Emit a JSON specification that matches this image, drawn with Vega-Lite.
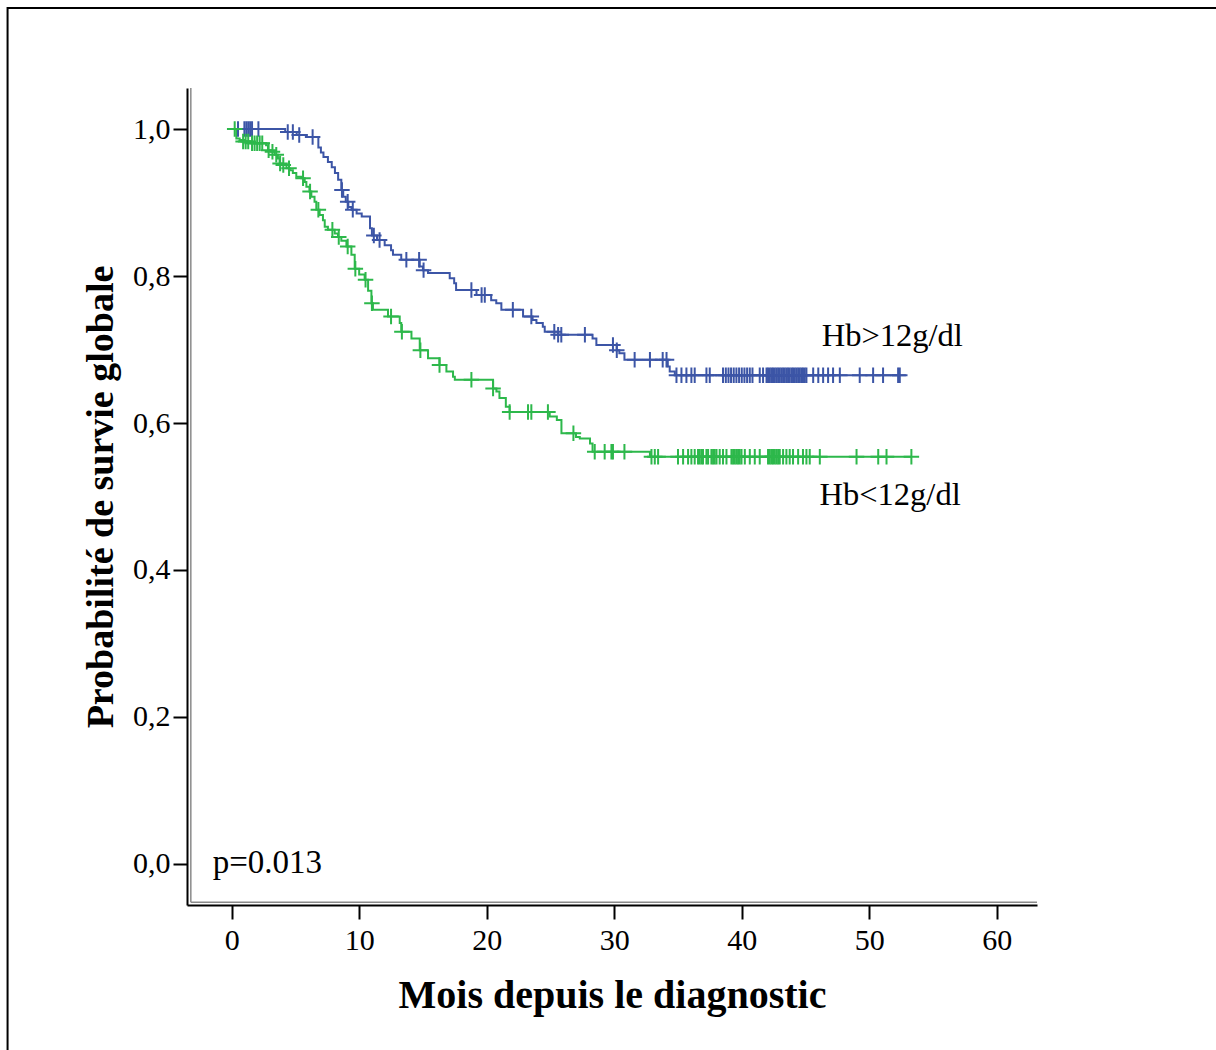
{
  "$schema": "https://vega.github.io/schema/vega-lite/v6.json",
  "width": 850,
  "height": 817,
  "autosize": {"type": "none"},
  "padding": {"left": 187, "top": 88, "right": 179, "bottom": 145},
  "background": "white",
  "config": {
    "view": {"stroke": null},
    "axis": {
      "grid": false,
      "domainColor": "black",
      "domainWidth": 2,
      "tickColor": "black",
      "tickWidth": 2,
      "tickSize": 14,
      "labelFont": "Liberation Serif",
      "labelFontSize": 30,
      "labelColor": "black",
      "titleFont": "Liberation Serif",
      "titleFontWeight": "bold",
      "titleColor": "black"
    }
  },
  "datasets": {
    "curves": [
      {"g":"Hb>12g/dl","t":0,"s":1.0},{"g":"Hb>12g/dl","t":4.2,"s":0.996},{"g":"Hb>12g/dl","t":5.1,"s":0.992},{"g":"Hb>12g/dl","t":5.9,"s":0.989},
      {"g":"Hb>12g/dl","t":6.8,"s":0.975},{"g":"Hb>12g/dl","t":7.0,"s":0.968},{"g":"Hb>12g/dl","t":7.2,"s":0.962},{"g":"Hb>12g/dl","t":7.55,"s":0.955},
      {"g":"Hb>12g/dl","t":7.85,"s":0.948},{"g":"Hb>12g/dl","t":8.1,"s":0.94},{"g":"Hb>12g/dl","t":8.35,"s":0.931},{"g":"Hb>12g/dl","t":8.6,"s":0.917},
      {"g":"Hb>12g/dl","t":8.75,"s":0.908},{"g":"Hb>12g/dl","t":8.95,"s":0.901},{"g":"Hb>12g/dl","t":9.15,"s":0.894},{"g":"Hb>12g/dl","t":9.4,"s":0.89},
      {"g":"Hb>12g/dl","t":9.8,"s":0.885},{"g":"Hb>12g/dl","t":10.2,"s":0.881},{"g":"Hb>12g/dl","t":10.85,"s":0.865},{"g":"Hb>12g/dl","t":11.0,"s":0.855},
      {"g":"Hb>12g/dl","t":11.4,"s":0.849},{"g":"Hb>12g/dl","t":12.0,"s":0.842},{"g":"Hb>12g/dl","t":12.5,"s":0.835},{"g":"Hb>12g/dl","t":12.65,"s":0.829},
      {"g":"Hb>12g/dl","t":13.3,"s":0.822},{"g":"Hb>12g/dl","t":14.75,"s":0.813},{"g":"Hb>12g/dl","t":15.0,"s":0.808},{"g":"Hb>12g/dl","t":15.4,"s":0.804},
      {"g":"Hb>12g/dl","t":17.1,"s":0.797},{"g":"Hb>12g/dl","t":17.45,"s":0.79},{"g":"Hb>12g/dl","t":17.6,"s":0.781},{"g":"Hb>12g/dl","t":19.2,"s":0.774},
      {"g":"Hb>12g/dl","t":20.35,"s":0.767},{"g":"Hb>12g/dl","t":20.75,"s":0.763},{"g":"Hb>12g/dl","t":21.15,"s":0.754},{"g":"Hb>12g/dl","t":22.85,"s":0.745},
      {"g":"Hb>12g/dl","t":23.6,"s":0.74},{"g":"Hb>12g/dl","t":23.9,"s":0.736},{"g":"Hb>12g/dl","t":24.4,"s":0.731},{"g":"Hb>12g/dl","t":24.55,"s":0.724},
      {"g":"Hb>12g/dl","t":25.6,"s":0.72},{"g":"Hb>12g/dl","t":28.3,"s":0.715},{"g":"Hb>12g/dl","t":28.6,"s":0.706},{"g":"Hb>12g/dl","t":30.2,"s":0.699},
      {"g":"Hb>12g/dl","t":30.4,"s":0.695},{"g":"Hb>12g/dl","t":30.8,"s":0.686},{"g":"Hb>12g/dl","t":34.2,"s":0.677},{"g":"Hb>12g/dl","t":34.35,"s":0.67},
      {"g":"Hb>12g/dl","t":34.75,"s":0.665},{"g":"Hb>12g/dl","t":52.39,"s":0.665},
      {"g":"Hb<12g/dl","t":0,"s":1.0},{"g":"Hb<12g/dl","t":0.37,"s":0.987},{"g":"Hb<12g/dl","t":0.63,"s":0.985},{"g":"Hb<12g/dl","t":1.0,"s":0.983},
      {"g":"Hb<12g/dl","t":1.55,"s":0.9805},{"g":"Hb<12g/dl","t":2.7,"s":0.978},{"g":"Hb<12g/dl","t":2.85,"s":0.971},{"g":"Hb<12g/dl","t":3.1,"s":0.969},
      {"g":"Hb<12g/dl","t":3.37,"s":0.965},{"g":"Hb<12g/dl","t":3.63,"s":0.96},{"g":"Hb<12g/dl","t":3.76,"s":0.953},{"g":"Hb<12g/dl","t":4.0,"s":0.951},
      {"g":"Hb<12g/dl","t":4.3,"s":0.9465},{"g":"Hb<12g/dl","t":4.55,"s":0.944},{"g":"Hb<12g/dl","t":4.8,"s":0.94},{"g":"Hb<12g/dl","t":5.07,"s":0.935},
      {"g":"Hb<12g/dl","t":5.47,"s":0.933},{"g":"Hb<12g/dl","t":5.73,"s":0.928},{"g":"Hb<12g/dl","t":5.86,"s":0.9215},{"g":"Hb<12g/dl","t":6.1,"s":0.915},
      {"g":"Hb<12g/dl","t":6.25,"s":0.908},{"g":"Hb<12g/dl","t":6.5,"s":0.901},{"g":"Hb<12g/dl","t":6.64,"s":0.89},{"g":"Hb<12g/dl","t":6.9,"s":0.883},
      {"g":"Hb<12g/dl","t":7.16,"s":0.876},{"g":"Hb<12g/dl","t":7.3,"s":0.867},{"g":"Hb<12g/dl","t":7.55,"s":0.863},{"g":"Hb<12g/dl","t":8.08,"s":0.858},
      {"g":"Hb<12g/dl","t":8.34,"s":0.853},{"g":"Hb<12g/dl","t":8.6,"s":0.848},{"g":"Hb<12g/dl","t":9.0,"s":0.84},{"g":"Hb<12g/dl","t":9.39,"s":0.829},
      {"g":"Hb<12g/dl","t":9.65,"s":0.81},{"g":"Hb<12g/dl","t":10.0,"s":0.802},{"g":"Hb<12g/dl","t":10.43,"s":0.795},{"g":"Hb<12g/dl","t":10.7,"s":0.78},
      {"g":"Hb<12g/dl","t":10.96,"s":0.763},{"g":"Hb<12g/dl","t":11.08,"s":0.754},{"g":"Hb<12g/dl","t":12.26,"s":0.745},{"g":"Hb<12g/dl","t":13.18,"s":0.736},
      {"g":"Hb<12g/dl","t":13.3,"s":0.724},{"g":"Hb<12g/dl","t":14.1,"s":0.715},{"g":"Hb<12g/dl","t":14.75,"s":0.699},{"g":"Hb<12g/dl","t":15.4,"s":0.688},
      {"g":"Hb<12g/dl","t":16.3,"s":0.679},{"g":"Hb<12g/dl","t":16.84,"s":0.67},{"g":"Hb<12g/dl","t":17.36,"s":0.663},{"g":"Hb<12g/dl","t":17.5,"s":0.659},
      {"g":"Hb<12g/dl","t":20.5,"s":0.647},{"g":"Hb<12g/dl","t":20.76,"s":0.643},{"g":"Hb<12g/dl","t":21.0,"s":0.634},{"g":"Hb<12g/dl","t":21.5,"s":0.622},
      {"g":"Hb<12g/dl","t":21.8,"s":0.615},{"g":"Hb<12g/dl","t":24.94,"s":0.609},{"g":"Hb<12g/dl","t":25.5,"s":0.604},{"g":"Hb<12g/dl","t":25.86,"s":0.586},
      {"g":"Hb<12g/dl","t":27.0,"s":0.581},{"g":"Hb<12g/dl","t":27.3,"s":0.579},{"g":"Hb<12g/dl","t":28.1,"s":0.572},{"g":"Hb<12g/dl","t":28.3,"s":0.561},
      {"g":"Hb<12g/dl","t":32.8,"s":0.554},{"g":"Hb<12g/dl","t":53.3,"s":0.554}
    ],
    "censor": [
      {"g":"Hb>12g/dl","t":0.5,"s":1.0},{"g":"Hb>12g/dl","t":1.0,"s":1.0},{"g":"Hb>12g/dl","t":1.15,"s":1.0},{"g":"Hb>12g/dl","t":1.3,"s":1.0},
      {"g":"Hb>12g/dl","t":1.45,"s":1.0},{"g":"Hb>12g/dl","t":1.6,"s":1.0},{"g":"Hb>12g/dl","t":2.1,"s":1.0},
      {"g":"Hb>12g/dl","t":4.4,"s":0.996},{"g":"Hb>12g/dl","t":4.8,"s":0.996},{"g":"Hb>12g/dl","t":5.3,"s":0.992},{"g":"Hb>12g/dl","t":6.35,"s":0.989},
      {"g":"Hb>12g/dl","t":8.65,"s":0.917},{"g":"Hb>12g/dl","t":9.1,"s":0.901},{"g":"Hb>12g/dl","t":9.5,"s":0.89},{"g":"Hb>12g/dl","t":11.15,"s":0.855},
      {"g":"Hb>12g/dl","t":11.6,"s":0.849},{"g":"Hb>12g/dl","t":13.7,"s":0.822},{"g":"Hb>12g/dl","t":14.7,"s":0.822},{"g":"Hb>12g/dl","t":15.05,"s":0.808},
      {"g":"Hb>12g/dl","t":18.8,"s":0.781},{"g":"Hb>12g/dl","t":19.6,"s":0.774},{"g":"Hb>12g/dl","t":19.85,"s":0.774},{"g":"Hb>12g/dl","t":22.05,"s":0.754},
      {"g":"Hb>12g/dl","t":23.5,"s":0.745},{"g":"Hb>12g/dl","t":25.3,"s":0.724},{"g":"Hb>12g/dl","t":25.6,"s":0.72},{"g":"Hb>12g/dl","t":25.85,"s":0.72},
      {"g":"Hb>12g/dl","t":27.7,"s":0.72},{"g":"Hb>12g/dl","t":29.9,"s":0.706},{"g":"Hb>12g/dl","t":30.2,"s":0.699},{"g":"Hb>12g/dl","t":31.6,"s":0.686},
      {"g":"Hb>12g/dl","t":32.8,"s":0.686},{"g":"Hb>12g/dl","t":33.8,"s":0.686},{"g":"Hb>12g/dl","t":34.1,"s":0.686},
      {"g":"Hb>12g/dl","t":34.88,"s":0.665},{"g":"Hb>12g/dl","t":35.27,"s":0.665},{"g":"Hb>12g/dl","t":35.66,"s":0.665},{"g":"Hb>12g/dl","t":36.05,"s":0.665},
      {"g":"Hb>12g/dl","t":36.31,"s":0.665},{"g":"Hb>12g/dl","t":37.23,"s":0.665},{"g":"Hb>12g/dl","t":37.49,"s":0.665},{"g":"Hb>12g/dl","t":38.53,"s":0.665},
      {"g":"Hb>12g/dl","t":38.75,"s":0.665},{"g":"Hb>12g/dl","t":38.96,"s":0.665},{"g":"Hb>12g/dl","t":39.16,"s":0.665},{"g":"Hb>12g/dl","t":39.37,"s":0.665},
      {"g":"Hb>12g/dl","t":39.58,"s":0.665},{"g":"Hb>12g/dl","t":39.79,"s":0.665},{"g":"Hb>12g/dl","t":40.0,"s":0.665},{"g":"Hb>12g/dl","t":40.21,"s":0.665},
      {"g":"Hb>12g/dl","t":40.42,"s":0.665},{"g":"Hb>12g/dl","t":40.63,"s":0.665},{"g":"Hb>12g/dl","t":40.84,"s":0.665},{"g":"Hb>12g/dl","t":41.41,"s":0.665},
      {"g":"Hb>12g/dl","t":41.67,"s":0.665},{"g":"Hb>12g/dl","t":41.94,"s":0.665},{"g":"Hb>12g/dl","t":42.06,"s":0.665},{"g":"Hb>12g/dl","t":42.2,"s":0.665},
      {"g":"Hb>12g/dl","t":42.33,"s":0.665},{"g":"Hb>12g/dl","t":42.45,"s":0.665},{"g":"Hb>12g/dl","t":42.59,"s":0.665},{"g":"Hb>12g/dl","t":42.72,"s":0.665},
      {"g":"Hb>12g/dl","t":42.85,"s":0.665},{"g":"Hb>12g/dl","t":42.98,"s":0.665},{"g":"Hb>12g/dl","t":43.11,"s":0.665},{"g":"Hb>12g/dl","t":43.24,"s":0.665},
      {"g":"Hb>12g/dl","t":43.37,"s":0.665},{"g":"Hb>12g/dl","t":43.5,"s":0.665},{"g":"Hb>12g/dl","t":43.63,"s":0.665},{"g":"Hb>12g/dl","t":43.76,"s":0.665},
      {"g":"Hb>12g/dl","t":43.9,"s":0.665},{"g":"Hb>12g/dl","t":44.02,"s":0.665},{"g":"Hb>12g/dl","t":44.16,"s":0.665},{"g":"Hb>12g/dl","t":44.29,"s":0.665},
      {"g":"Hb>12g/dl","t":44.42,"s":0.665},{"g":"Hb>12g/dl","t":44.55,"s":0.665},{"g":"Hb>12g/dl","t":44.68,"s":0.665},{"g":"Hb>12g/dl","t":44.8,"s":0.665},
      {"g":"Hb>12g/dl","t":44.94,"s":0.665},{"g":"Hb>12g/dl","t":45.07,"s":0.665},{"g":"Hb>12g/dl","t":45.6,"s":0.665},{"g":"Hb>12g/dl","t":46.0,"s":0.665},
      {"g":"Hb>12g/dl","t":46.38,"s":0.665},{"g":"Hb>12g/dl","t":46.77,"s":0.665},{"g":"Hb>12g/dl","t":47.16,"s":0.665},{"g":"Hb>12g/dl","t":47.69,"s":0.665},
      {"g":"Hb>12g/dl","t":49.25,"s":0.665},{"g":"Hb>12g/dl","t":50.3,"s":0.665},{"g":"Hb>12g/dl","t":51.08,"s":0.665},{"g":"Hb>12g/dl","t":52.26,"s":0.665},
      {"g":"Hb>12g/dl","t":52.39,"s":0.665},
      {"g":"Hb<12g/dl","t":0.24,"s":1.0},{"g":"Hb<12g/dl","t":0.9,"s":0.983},{"g":"Hb<12g/dl","t":1.1,"s":0.983},{"g":"Hb<12g/dl","t":1.3,"s":0.983},
      {"g":"Hb<12g/dl","t":1.6,"s":0.9805},{"g":"Hb<12g/dl","t":1.8,"s":0.9805},{"g":"Hb<12g/dl","t":2.0,"s":0.9805},{"g":"Hb<12g/dl","t":2.2,"s":0.9805},
      {"g":"Hb<12g/dl","t":2.4,"s":0.9805},{"g":"Hb<12g/dl","t":2.9,"s":0.971},{"g":"Hb<12g/dl","t":3.2,"s":0.969},{"g":"Hb<12g/dl","t":3.5,"s":0.965},
      {"g":"Hb<12g/dl","t":3.8,"s":0.953},{"g":"Hb<12g/dl","t":4.05,"s":0.951},{"g":"Hb<12g/dl","t":4.5,"s":0.9465},{"g":"Hb<12g/dl","t":5.6,"s":0.933},
      {"g":"Hb<12g/dl","t":6.15,"s":0.915},{"g":"Hb<12g/dl","t":6.8,"s":0.89},{"g":"Hb<12g/dl","t":7.9,"s":0.863},{"g":"Hb<12g/dl","t":8.4,"s":0.853},
      {"g":"Hb<12g/dl","t":9.1,"s":0.84},{"g":"Hb<12g/dl","t":9.7,"s":0.81},{"g":"Hb<12g/dl","t":10.5,"s":0.795},{"g":"Hb<12g/dl","t":11.0,"s":0.763},
      {"g":"Hb<12g/dl","t":12.5,"s":0.745},{"g":"Hb<12g/dl","t":13.35,"s":0.724},{"g":"Hb<12g/dl","t":14.8,"s":0.699},{"g":"Hb<12g/dl","t":16.3,"s":0.679},
      {"g":"Hb<12g/dl","t":18.8,"s":0.659},{"g":"Hb<12g/dl","t":20.5,"s":0.647},{"g":"Hb<12g/dl","t":21.8,"s":0.615},{"g":"Hb<12g/dl","t":23.24,"s":0.615},
      {"g":"Hb<12g/dl","t":23.5,"s":0.615},{"g":"Hb<12g/dl","t":24.8,"s":0.615},{"g":"Hb<12g/dl","t":26.8,"s":0.586},{"g":"Hb<12g/dl","t":28.47,"s":0.561},
      {"g":"Hb<12g/dl","t":29.25,"s":0.561},{"g":"Hb<12g/dl","t":29.78,"s":0.561},{"g":"Hb<12g/dl","t":29.9,"s":0.561},{"g":"Hb<12g/dl","t":30.8,"s":0.561},
      {"g":"Hb<12g/dl","t":32.92,"s":0.554},{"g":"Hb<12g/dl","t":33.18,"s":0.554},{"g":"Hb<12g/dl","t":33.44,"s":0.554},{"g":"Hb<12g/dl","t":35.0,"s":0.554},
      {"g":"Hb<12g/dl","t":35.4,"s":0.554},{"g":"Hb<12g/dl","t":35.79,"s":0.554},{"g":"Hb<12g/dl","t":36.05,"s":0.554},{"g":"Hb<12g/dl","t":36.31,"s":0.554},
      {"g":"Hb<12g/dl","t":36.57,"s":0.554},{"g":"Hb<12g/dl","t":36.7,"s":0.554},{"g":"Hb<12g/dl","t":36.84,"s":0.554},{"g":"Hb<12g/dl","t":36.96,"s":0.554},
      {"g":"Hb<12g/dl","t":37.23,"s":0.554},{"g":"Hb<12g/dl","t":37.36,"s":0.554},{"g":"Hb<12g/dl","t":37.62,"s":0.554},{"g":"Hb<12g/dl","t":37.75,"s":0.554},
      {"g":"Hb<12g/dl","t":37.88,"s":0.554},{"g":"Hb<12g/dl","t":38.02,"s":0.554},{"g":"Hb<12g/dl","t":38.27,"s":0.554},{"g":"Hb<12g/dl","t":38.53,"s":0.554},
      {"g":"Hb<12g/dl","t":38.8,"s":0.554},{"g":"Hb<12g/dl","t":39.19,"s":0.554},{"g":"Hb<12g/dl","t":39.32,"s":0.554},{"g":"Hb<12g/dl","t":39.45,"s":0.554},
      {"g":"Hb<12g/dl","t":39.58,"s":0.554},{"g":"Hb<12g/dl","t":39.71,"s":0.554},{"g":"Hb<12g/dl","t":39.84,"s":0.554},{"g":"Hb<12g/dl","t":39.98,"s":0.554},
      {"g":"Hb<12g/dl","t":40.24,"s":0.554},{"g":"Hb<12g/dl","t":40.63,"s":0.554},{"g":"Hb<12g/dl","t":41.02,"s":0.554},{"g":"Hb<12g/dl","t":41.41,"s":0.554},
      {"g":"Hb<12g/dl","t":42.06,"s":0.554},{"g":"Hb<12g/dl","t":42.2,"s":0.554},{"g":"Hb<12g/dl","t":42.33,"s":0.554},{"g":"Hb<12g/dl","t":42.45,"s":0.554},
      {"g":"Hb<12g/dl","t":42.59,"s":0.554},{"g":"Hb<12g/dl","t":42.72,"s":0.554},{"g":"Hb<12g/dl","t":42.85,"s":0.554},{"g":"Hb<12g/dl","t":42.98,"s":0.554},
      {"g":"Hb<12g/dl","t":43.24,"s":0.554},{"g":"Hb<12g/dl","t":43.5,"s":0.554},{"g":"Hb<12g/dl","t":43.76,"s":0.554},{"g":"Hb<12g/dl","t":44.02,"s":0.554},
      {"g":"Hb<12g/dl","t":44.42,"s":0.554},{"g":"Hb<12g/dl","t":44.8,"s":0.554},{"g":"Hb<12g/dl","t":45.07,"s":0.554},{"g":"Hb<12g/dl","t":45.33,"s":0.554},
      {"g":"Hb<12g/dl","t":46.12,"s":0.554},{"g":"Hb<12g/dl","t":49.0,"s":0.554},{"g":"Hb<12g/dl","t":50.7,"s":0.554},{"g":"Hb<12g/dl","t":51.35,"s":0.554},
      {"g":"Hb<12g/dl","t":53.3,"s":0.554}
    ]
  },
  "layer": [
    {
      "data": {"values": [{"k": 1}]},
      "mark": {"type": "rect", "fillOpacity": 0, "stroke": "black", "strokeWidth": 2, "clip": false},
      "encoding": {
        "x": {"datum": -17.57, "type": "quantitative", "scale": {"domain": [-3.5, 63.15], "nice": false, "zero": false}},
        "x2": {"datum": 78.3},
        "y": {"datum": 1.1646, "type": "quantitative", "scale": {"domain": [-0.0558, 1.0558], "nice": false, "zero": false}},
        "y2": {"datum": -0.27}
      }
    },
    {
      "data": {"values": [{"k": 1}]},
      "mark": {"type": "rule", "strokeWidth": 1.5, "color": "#8a8a8a"},
      "encoding": {
        "x": {"datum": -3.2, "type": "quantitative"},
        "y": {"datum": -0.052, "type": "quantitative"},
        "y2": {"datum": 1.0558}
      }
    },
    {
      "data": {"values": [{"k": 1}]},
      "mark": {"type": "rule", "strokeWidth": 1.5, "color": "#8a8a8a"},
      "encoding": {
        "x": {"datum": -3.2, "type": "quantitative"},
        "x2": {"datum": 63.15},
        "y": {"datum": -0.052, "type": "quantitative"}
      }
    },
    {
      "data": {"name": "curves"},
      "mark": {"type": "line", "interpolate": "step-after", "strokeWidth": 2},
      "encoding": {
        "x": {
          "field": "t", "type": "quantitative",
          "scale": {"domain": [-3.5, 63.15], "nice": false, "zero": false},
          "axis": {"title": "Mois depuis le diagnostic", "titleFontSize": 40, "values": [0, 10, 20, 30, 40, 50, 60], "labelPadding": 6, "titlePadding": 20, "labelFlush": false}
        },
        "y": {
          "field": "s", "type": "quantitative",
          "scale": {"domain": [-0.0558, 1.0558], "nice": false, "zero": false},
          "axis": {"title": "Probabilité de survie globale", "titleFontSize": 38, "values": [0, 0.2, 0.4, 0.6, 0.8, 1.0], "labelExpr": "replace(format(datum.value, '.1f'), '.', ',')", "labelPadding": 3, "titlePadding": 12, "labelFlush": false}
        },
        "color": {
          "field": "g", "type": "nominal",
          "scale": {"domain": ["Hb>12g/dl", "Hb<12g/dl"], "range": ["#3C55A6", "#2DB84B"]},
          "legend": null
        }
      }
    },
    {
      "data": {"name": "censor"},
      "mark": {"type": "point", "shape": "M-1,0L1,0M0,-1L0,1", "filled": false, "strokeWidth": 2, "size": 240, "opacity": 1},
      "encoding": {
        "x": {"field": "t", "type": "quantitative", "title": "Mois depuis le diagnostic"},
        "y": {"field": "s", "type": "quantitative", "title": "Probabilité de survie globale"},
        "color": {"field": "g", "type": "nominal", "legend": null}
      }
    },
    {
      "data": {"values": [{"k": 1}]},
      "mark": {"type": "text", "text": "Hb>12g/dl", "font": "Liberation Serif", "fontSize": 32.5, "align": "left", "baseline": "alphabetic", "color": "black"},
      "encoding": {
        "x": {"datum": 46.27, "type": "quantitative"},
        "y": {"datum": 0.7048, "type": "quantitative"}
      }
    },
    {
      "data": {"values": [{"k": 1}]},
      "mark": {"type": "text", "text": "Hb<12g/dl", "font": "Liberation Serif", "fontSize": 32.5, "align": "left", "baseline": "alphabetic", "color": "black"},
      "encoding": {
        "x": {"datum": 46.1, "type": "quantitative"},
        "y": {"datum": 0.4884, "type": "quantitative"}
      }
    },
    {
      "data": {"values": [{"k": 1}]},
      "mark": {"type": "text", "text": "p=0.013", "font": "Liberation Serif", "fontSize": 33, "align": "left", "baseline": "alphabetic", "color": "black"},
      "encoding": {
        "x": {"datum": -1.49, "type": "quantitative"},
        "y": {"datum": -0.0126, "type": "quantitative"}
      }
    }
  ]
}
